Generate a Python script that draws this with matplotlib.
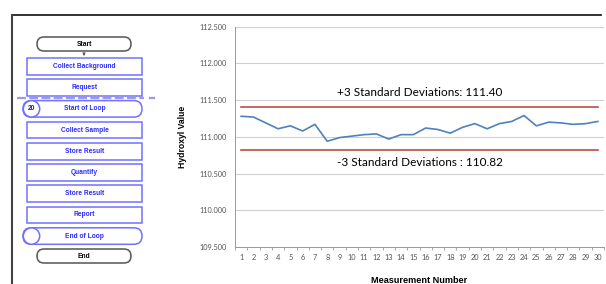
import matplotlib
matplotlib.use("Agg")
import matplotlib.pyplot as plt
from matplotlib.patches import FancyBboxPatch, Circle, Rectangle

# chart data
measurements = list(range(1, 31))
hydroxyl = [111.28, 111.27, 111.19, 111.11, 111.15, 111.08, 111.17, 110.94, 110.99, 111.01,
            111.03, 111.04, 110.97, 111.03, 111.03, 111.12, 111.10, 111.05, 111.13, 111.18,
            111.11, 111.18, 111.21, 111.29, 111.15, 111.20, 111.19, 111.17, 111.18, 111.21]
upper_limit = 111.40
lower_limit = 110.82
y_ticks = [109.5, 110.0, 110.5, 111.0, 111.5, 112.0, 112.5]

# flowchart steps
steps = ["Start", "Collect Background", "Request", "Start of Loop", "Collect Sample",
         "Store Result", "Quantify", "Store Result", "Report", "End of Loop", "End"]
kinds = ["term", "box", "box", "loop", "box", "box", "box", "box", "box", "loop", "term"]
loop_count = "20"

W, H = 606, 284
fig = plt.figure(figsize=(W / 100, H / 100), dpi=100)
plt.rcParams["font.family"] = ["Lato", "DejaVu Sans"]
bold_font = ["Liberation Sans", "DejaVu Sans"]

# background layer in pixel coordinates
bg = fig.add_axes([0, 0, 1, 1])
bg.set_xlim(0, W)
bg.set_ylim(H, 0)
bg.axis("off")

bg.plot([12, 601], [15, 15], color="#222222", lw=1.3)
bg.plot([12, 12], [15, H], color="#444444", lw=1.5)

blue_edge = "#7070ff"
blue_text = "#2a2aff"
for i, (label, kind) in enumerate(zip(steps, kinds)):
    top = 37 + i * 21.2
    if kind == "term":
        x0, x1, h = 37, 131, 14
        patch = FancyBboxPatch((x0, top), x1 - x0, h, boxstyle="round,pad=0,rounding_size=7",
                               fc="white", ec="#555555", lw=1.1)
        bg.add_patch(patch)
        bg.text((x0 + x1) / 2, top + h / 2, label, ha="center", va="center",
                fontsize=4.8, fontweight="bold", color="black", family=bold_font)
    elif kind == "box":
        x0, x1, h = 27, 142, 16.5
        bg.add_patch(Rectangle((x0, top), x1 - x0, h, fc="white", ec=blue_edge, lw=1.1))
        bg.text((x0 + x1) / 2, top + h / 2, label, ha="center", va="center",
                fontsize=4.8, fontweight="bold", color=blue_text, family=bold_font)
    else:
        x0, x1, h = 23, 142, 16.5
        bg.add_patch(FancyBboxPatch((x0, top), x1 - x0, h,
                                    boxstyle="round,pad=0,rounding_size=8.2",
                                    fc="white", ec=blue_edge, lw=1.1))
        bg.add_patch(Circle((31.5, top + h / 2), 8.2, fc="white", ec=blue_edge, lw=1.1))
        if label == "Start of Loop":
            bg.text(31.5, top + h / 2, loop_count, ha="center", va="center",
                    fontsize=4.8, fontweight="bold", color="#222266", family=bold_font)
        bg.text(84.5, top + h / 2, label, ha="center", va="center",
                fontsize=4.8, fontweight="bold", color=blue_text, family=bold_font)

bg.annotate("", xy=(84, 56), xytext=(84, 51),
            arrowprops=dict(arrowstyle="-|>", color="#555555", lw=0.6, mutation_scale=4))
bg.plot([17, 144], [98, 98], color="#9a9ae8", lw=1.6, ls=(0, (4, 1.5)))
bg.plot([150, 154], [98, 98], color="#9a9ae8", lw=1.6)

# chart
ax = fig.add_axes([235 / W, (H - 247) / H, (604 - 235) / W, (247 - 26.7) / H])
ax.plot(measurements, hydroxyl, color="#4f81bd", lw=1.2)
ax.plot(measurements, [upper_limit] * len(measurements), color="#be4b48", lw=1.2)
ax.plot(measurements, [lower_limit] * len(measurements), color="#be4b48", lw=1.2)

ax.set_xlim(0.5, 30.5)
ax.set_ylim(y_ticks[0], y_ticks[-1])
ax.set_yticks(y_ticks)
ax.set_yticklabels([f"{v:.3f}" for v in y_ticks])
ax.set_xticks(measurements)
ax.set_xticks([m + 0.5 for m in [0] + measurements], minor=True)
ax.tick_params(axis="x", which="major", length=0, labelsize=5.3, labelcolor="#555555", pad=5)
ax.tick_params(axis="x", which="minor", length=2.5, color="#999999", width=0.6)
ax.tick_params(axis="y", length=0, labelsize=5.3, labelcolor="#555555", pad=6)
ax.grid(axis="y", color="#d0d0d0", lw=0.8)
ax.set_axisbelow(True)
for side in ["top", "right"]:
    ax.spines[side].set_visible(False)
ax.spines["left"].set_color("#999999")
ax.spines["bottom"].set_color("#999999")
ax.spines["left"].set_linewidth(0.7)
ax.spines["bottom"].set_linewidth(0.7)

ax.set_ylabel("Hydroxyl Value", fontsize=6.2, fontweight="bold", labelpad=9, family=bold_font)
ax.set_xlabel("Measurement Number", fontsize=6.6, fontweight="bold", labelpad=11, family=bold_font)

ax.text(15.5, upper_limit + 0.2, f"+3 Standard Deviations: {upper_limit:.2f}",
        ha="center", va="center", fontsize=8.5)
ax.text(15.5, lower_limit - 0.17, f"-3 Standard Deviations : {lower_limit:.2f}",
        ha="center", va="center", fontsize=8.5)

fig.savefig("out.png", dpi=100)
